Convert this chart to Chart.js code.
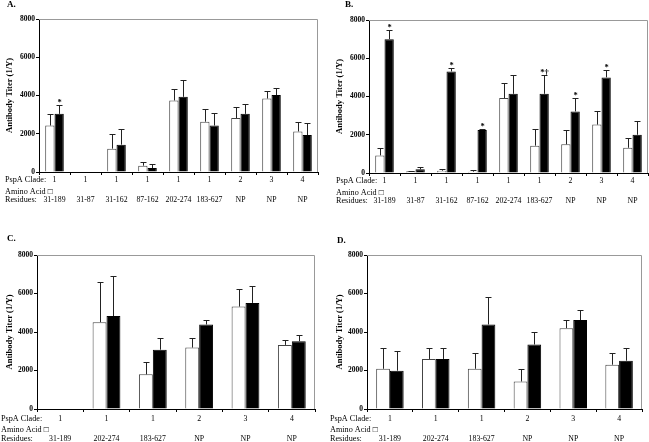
<!DOCTYPE html>
<html>
<head>
<meta charset="utf-8">
<title>PspA Antibody Titers</title>
<script src="https://cdn.jsdelivr.net/npm/chart.js"></script>
<style>
    body { margin: 0; background: #fff; }
    canvas { position: absolute; }
</style>
</head>
<body>
<canvas id="chartA" width="325" height="212" style="left:0px;top:0px"></canvas>
<canvas id="chartB" width="319" height="212" style="left:330px;top:0px"></canvas>
<canvas id="chartC" width="325" height="220" style="left:0px;top:222px"></canvas>
<canvas id="chartD" width="319" height="220" style="left:330px;top:222px"></canvas>

<script>
// categories
const cladesAB   = ['1', '1', '1', '1', '1', '1', '2', '3', '4'];
const residuesAB = ['31-189', '31-87', '31-162', '87-162', '202-274', '183-627', 'NP', 'NP', 'NP'];
const cladesCD   = ['1', '1', '1', '2', '3', '4'];
const residuesCD = ['31-189', '202-274', '183-627', 'NP', 'NP', 'NP'];

// panel A
const whiteA   = [2430, null, 1220, 330, 3740, 2630, 2820, 3840, 2120];
const whiteSdA = [600, null, 760, 170, 590, 690, 590, 370, 490];
const blackA   = [3040, null, 1430, 210, 3930, 2430, 3040, 4020, 1930];
const blackSdA = [470, null, 800, 190, 890, 680, 540, 380, 610];
const marksA   = ['*', '', '', '', '', '', '', '', ''];

// panel B
const whiteB   = [920, 90, 120, 70, 3920, 1430, 1500, 2530, 1320];
const whiteSdB = [400, 30, 90, 90, 800, 890, 750, 690, 510];
const blackB   = [7000, 190, 5310, 2250, 4140, 4140, 3220, 5000, 2000];
const blackSdB = [490, 140, 160, 70, 1000, 1000, 680, 400, 730];
const marksB   = ['*', '', '*', '*', '', '*\u2020', '*', '*', ''];

// panel C
const whiteC   = [null, 4510, 1800, 3190, 5320, 3330];
const whiteSdC = [null, 2080, 620, 520, 920, 260];
const blackC   = [null, 4830, 3080, 4390, 5510, 3520];
const blackSdC = [null, 2090, 630, 230, 900, 300];

// panel D
const whiteD   = [2090, 2600, 2090, 1430, 4200, 2300];
const whiteSdD = [1100, 590, 800, 660, 420, 590];
const blackD   = [1990, 2600, 4390, 3350, 4620, 2510];
const blackSdD = [1010, 590, 1410, 640, 500, 680];

const yTicks = [0, 2000, 4000, 6000, 8000];

Chart.defaults.font.family = "'Liberation Serif', 'Times New Roman', serif";
Chart.defaults.color = '#000';

// frame, error bars, asterisks, panel letter and row captions
const panelExtras = {
    id: 'panelExtras',
    beforeDatasetsDraw(chart) {
        const ctx = chart.ctx, a = chart.chartArea;
        ctx.save();
        ctx.strokeStyle = '#999';
        ctx.lineWidth = 1;
        ctx.beginPath();
        ctx.moveTo(a.left, Math.round(a.top) + 0.5);
        ctx.lineTo(Math.round(a.right) - 0.5, Math.round(a.top) + 0.5);
        ctx.lineTo(Math.round(a.right) - 0.5, a.bottom);
        ctx.stroke();
        ctx.restore();
    },
    afterDatasetsDraw(chart) {
        const ctx = chart.ctx, y = chart.scales.y;
        ctx.save();
        chart.data.datasets.forEach((ds, i) => {
            chart.getDatasetMeta(i).data.forEach((bar, j) => {
                if (ds.data[j] == null) return;
                const top = Math.round(y.getPixelForValue(ds.data[j] + ds.sd[j])) + 0.5;
                const x = Math.round(bar.x) + 0.5;
                ctx.strokeStyle = '#222';
                ctx.lineWidth = 1;
                ctx.beginPath();
                ctx.moveTo(x, bar.y);
                ctx.lineTo(x, top);
                ctx.moveTo(x - 3, top);
                ctx.lineTo(x + 3, top);
                ctx.stroke();
                if (ds.marks && ds.marks[j]) {
                    ctx.fillStyle = '#000';
                    ctx.font = "bold 8.5px 'Liberation Serif', serif";
                    ctx.textAlign = 'center';
                    ctx.textBaseline = 'alphabetic';
                    ctx.fillText(ds.marks[j], x, top - 1);
                }
            });
        });
        ctx.restore();
    },
    afterDraw(chart) {
        const ctx = chart.ctx, a = chart.chartArea, p = chart.options.plugins.panelExtras;
        ctx.save();
        ctx.fillStyle = '#000';
        ctx.textAlign = 'left';
        ctx.textBaseline = 'middle';
        ctx.font = "bold 9px 'Liberation Serif', serif";
        ctx.fillText(p.letter, p.letterX, p.letterY);
        ctx.font = "8.2px 'Liberation Serif', serif";
        const c = a.bottom + 8 + p.labelPad;
        ctx.fillText('PspA Clade:', p.rowX, c);
        ctx.fillText('Amino Acid \u25A1', p.rowX, c + p.aminoOff);
        ctx.fillText('Residues:', p.rowX, c + 20);
        ctx.restore();
    }
};

function makePanel(id, box, clades, residues, white, whiteSd, black, blackSd, marks) {
    const labels = clades.map((c, i) => [c, '', residues[i]]);
    new Chart(document.getElementById(id), {
        type: 'bar',
        data: {
            labels: labels,
            datasets: [{
                data: white, sd: whiteSd,
                backgroundColor: '#fff', borderColor: '#444', borderWidth: 1,
                categoryPercentage: 0.6, barPercentage: 1.0
            }, {
                data: black, sd: blackSd, marks: marks,
                backgroundColor: '#000', borderColor: '#000', borderWidth: 1,
                categoryPercentage: 0.6, barPercentage: 1.0
            }]
        },
        options: {
            responsive: false,
            animation: false,
            events: [],
            layout: { padding: { left: 0, top: box.top, right: box.right, bottom: 0 } },
            plugins: {
                legend: { display: false },
                tooltip: { enabled: false },
                panelExtras: box
            },
            scales: {
                x: {
                    grid: { display: true, offset: true, drawOnChartArea: false, tickLength: 3, color: '#000' },
                    border: { color: '#000', width: 1 },
                    ticks: { color: '#000', padding: box.labelPad, maxRotation: 0, autoSkip: false,
                             font: { size: 7.8, lineHeight: '10px' } },
                    afterFit(s) { s.height = box.xHeight; }
                },
                y: {
                    min: 0, max: 8000,
                    afterBuildTicks(s) { s.ticks = yTicks.map(v => ({ value: v })); },
                    grid: { drawOnChartArea: false, tickLength: 3, color: '#000' },
                    border: { color: '#000', width: 1 },
                    ticks: { color: '#000', padding: 1, font: { size: 7.5, weight: 'bold' },
                             callback: v => String(v) },
                    title: { display: true, text: 'Antibody Titer (1/Y)', color: '#000',
                             font: { size: 8.5, weight: 'bold' }, padding: { top: 5, bottom: 0 } },
                    afterFit(s) { s.width = box.yWidth; }
                }
            }
        },
        plugins: [panelExtras]
    });
}

makePanel('chartA',
    { letter: 'A.', letterX: 7, letterY: 5, rowX: 5, top: 19, right: 7, yWidth: 39, xHeight: 40, labelPad: 0, aminoOff: 12 },
    cladesAB, residuesAB, whiteA, whiteSdA, blackA, blackSdA, marksA);
makePanel('chartB',
    { letter: 'B.', letterX: 15, letterY: 5, rowX: 6, top: 20, right: 1, yWidth: 39, xHeight: 39, labelPad: 0, aminoOff: 12 },
    cladesAB, residuesAB, whiteB, whiteSdB, blackB, blackSdB, marksB);
makePanel('chartC',
    { letter: 'C.', letterX: 7, letterY: 17, rowX: 1, top: 33, right: 10, yWidth: 37, xHeight: 33, labelPad: 2, aminoOff: 11 },
    cladesCD, residuesCD, whiteC, whiteSdC, blackC, blackSdC, null);
makePanel('chartD',
    { letter: 'D.', letterX: 7, letterY: 19, rowX: 0, top: 33, right: 7, yWidth: 37, xHeight: 33, labelPad: 2, aminoOff: 11 },
    cladesCD, residuesCD, whiteD, whiteSdD, blackD, blackSdD, null);
</script>
</body>
</html>
